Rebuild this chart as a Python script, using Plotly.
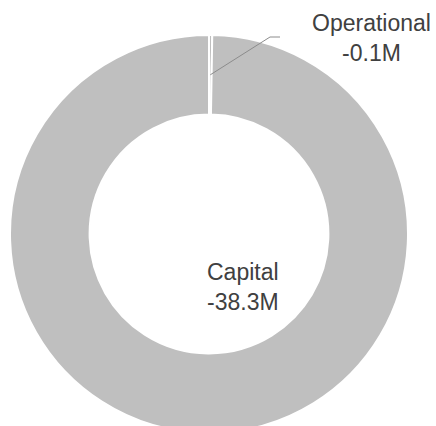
import math
import plotly.graph_objects as go

# Spend by category (millions)
categories = ["Operational", "Capital"]
values = [-0.1, -38.3]
value_labels = ["-0.1M", "-38.3M"]

slice_color = "#BFBFBF"
text_color = "#404040"
font_family = "Liberation Sans, Arial, sans-serif"

W, H = 436, 434
ml, mr, mt, mb = 10, 28, 35, 1
hole = 0.6

fig = go.Figure(
    go.Pie(
        labels=categories,
        values=[abs(v) for v in values],
        hole=hole,
        sort=False,
        direction="clockwise",
        rotation=0,
        marker=dict(colors=[slice_color] * len(categories),
                    line=dict(color="white", width=2)),
        textinfo="none",
        hoverinfo="label+text",
        text=value_labels,
        showlegend=False,
    )
)

pw, ph = W - ml - mr, H - mt - mb


def to_paper(px, py):
    return (px - ml) / pw, 1 - (py - mt) / ph


# leader line from the middle of the small slice to its label
total = sum(abs(v) for v in values)
mid_angle = 0.5 * abs(values[0]) / total * 2 * math.pi
r_mid = (1 + hole) / 2 * 0.5  # in paper units (plot area is square)
sx = 0.5 + r_mid * math.sin(mid_angle)
sy = 0.5 + r_mid * math.cos(mid_angle)
ex, ey = to_paper(270, 37)
hx, hy = to_paper(280, 37)
fig.add_shape(type="path", xref="paper", yref="paper",
              path=f"M {sx} {sy} L {ex} {ey} L {hx} {hy}",
              line=dict(color="#8C8C8C", width=1))

ox, oy = to_paper(371, 38)
cx, cy = to_paper(243, 287)
for (x, y), name, lab in [((ox, oy), categories[0], value_labels[0]),
                          ((cx, cy), categories[1], value_labels[1])]:
    fig.add_annotation(x=x, y=y, xref="paper", yref="paper",
                       text=f"{name}<br>{lab}", showarrow=False,
                       xanchor="center", yanchor="middle", align="center",
                       font=dict(family=font_family, size=23, color=text_color))

fig.update_layout(
    width=W, height=H,
    margin=dict(l=ml, r=mr, t=mt, b=mb, pad=0),
    paper_bgcolor="white", plot_bgcolor="white",
)

fig.write_html(
    "out.html",
    post_script="document.body.style.overflow='hidden';"
                "document.documentElement.style.overflow='hidden';",
)
